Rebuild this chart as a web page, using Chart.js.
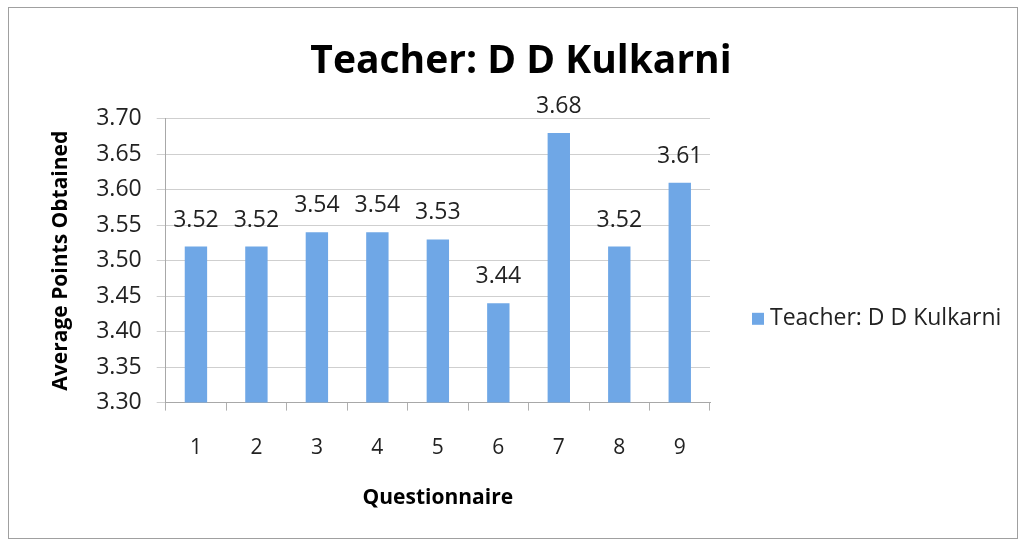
<!DOCTYPE html>
<html>
<head>
<meta charset="utf-8">
<script src="https://cdn.jsdelivr.net/npm/chart.js@4"></script>
<style>
  body { margin: 0; background: #fff; }
  #box { position: absolute; left: 8px; top: 7px; width: 1008px; height: 530px; border: 1px solid #a0a0a0; }
</style>
</head>
<body>
<div id="box"><canvas id="chart" width="1008" height="530"></canvas></div>
<script>
const questions = ['1', '2', '3', '4', '5', '6', '7', '8', '9'];
const avgPoints = [3.52, 3.52, 3.54, 3.54, 3.53, 3.44, 3.68, 3.52, 3.61];
const seriesName = 'Teacher: D D Kulkarni';
const barColor = '#6fa7e6';
const font = 'Open Sans';

// value labels above each bar
const valueLabels = {
  id: 'valueLabels',
  afterDatasetsDraw(chart) {
    const ctx = chart.ctx;
    const meta = chart.getDatasetMeta(0);
    ctx.save();
    ctx.font = '23px "' + font + '"';
    ctx.fillStyle = '#222';
    ctx.textAlign = 'center';
    ctx.textBaseline = 'alphabetic';
    meta.data.forEach((bar, i) => {
      ctx.fillText(avgPoints[i].toFixed(2), bar.x, bar.y - 20);
    });
    ctx.restore();
  }
};

// legend drawn to the right of the plot, like the excel one
const sideLegend = {
  id: 'sideLegend',
  afterDraw(chart) {
    const ctx = chart.ctx;
    const area = chart.chartArea;
    const ds = chart.data.datasets[0];
    const x = area.right + 42;
    const y = area.top + 200;
    ctx.save();
    ctx.fillStyle = ds.backgroundColor;
    ctx.fillRect(x, y - 6, 12, 12);
    ctx.font = '23px "' + font + '"';
    ctx.fillStyle = '#222';
    ctx.textBaseline = 'middle';
    ctx.fillText(ds.label, x + 18, y);
    ctx.restore();
  }
};

// keep the title centred on the whole chart, not just the plot side
const wideTitle = {
  id: 'wideTitle',
  afterLayout(chart) {
    const t = chart.titleBlock;
    t.left = 0;
    t.right = chart.width + 16;
    t.width = t.right;
  }
};

new Chart(document.getElementById('chart'), {
  type: 'bar',
  data: {
    labels: questions,
    datasets: [{
      label: seriesName,
      data: avgPoints,
      backgroundColor: barColor,
      categoryPercentage: 1,
      barPercentage: 0.37
    }]
  },
  options: {
    responsive: false,
    animation: false,
    layout: { padding: { left: 39, right: 307, top: 0, bottom: 27 } },
    plugins: {
      title: {
        display: true,
        text: seriesName,
        font: { family: font, size: 39, weight: 'bold' },
        color: '#000',
        padding: { top: 30, bottom: 34 }
      },
      legend: { display: false },
      tooltip: { enabled: false }
    },
    scales: {
      x: {
        grid: { drawOnChartArea: false, color: '#b0b0b0', tickLength: 8 },
        border: { color: '#a8a8a8' },
        ticks: { font: { family: font, size: 21 }, color: '#222', padding: 25 },
        title: { display: true, text: 'Questionnaire', font: { family: font, size: 21, weight: 'bold' }, color: '#000', padding: { top: 0, bottom: 0 } }
      },
      y: {
        min: 3.30,
        max: 3.70,
        grid: { color: '#cfcfcf', tickLength: 9 },
        border: { color: '#a8a8a8' },
        ticks: {
          stepSize: 0.05,
          font: { family: font, size: 23 },
          color: '#222',
          padding: 15,
          callback: v => v.toFixed(2)
        },
        title: { display: true, text: 'Average Points Obtained', font: { family: font, size: 21, weight: 'bold' }, color: '#000', padding: { top: 0, bottom: 8 } }
      }
    }
  },
  plugins: [valueLabels, sideLegend, wideTitle]
});
</script>
</body>
</html>
